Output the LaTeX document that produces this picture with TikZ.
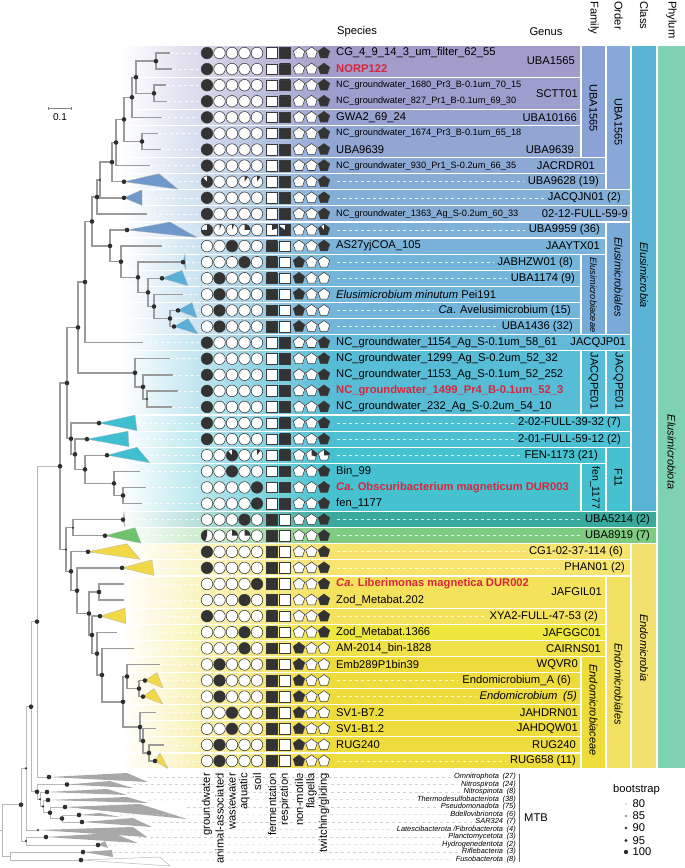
\documentclass[tikz,border=0pt]{standalone}
\usepackage{fontspec}
\setmainfont{Liberation Sans}
\usetikzlibrary{calc}
\definecolor{brc}{HTML}{9B9B9B}
\definecolor{mtbc}{HTML}{B8B8B8}
\definecolor{dotc}{HTML}{2E2E2E}
\definecolor{symdark}{HTML}{333333}
\definecolor{symedge}{HTML}{3A3A3A}
\definecolor{magred}{HTML}{D7263D}
% bands
\definecolor{cA}{HTML}{A39BC9}
\definecolor{cB}{HTML}{9C9FCD}
\definecolor{cC}{HTML}{97A2D0}
\definecolor{cD}{HTML}{91A6D3}
\definecolor{cE}{HTML}{8BA9D4}
\definecolor{cF}{HTML}{86ACD5}
\definecolor{cG}{HTML}{82AFD7}
\definecolor{cH}{HTML}{86ACD6}
\definecolor{cI}{HTML}{7FB1D8}
\definecolor{cJ}{HTML}{79B3D9}
\definecolor{cK}{HTML}{73B5DA}
\definecolor{cL}{HTML}{63B9D7}
\definecolor{cM}{HTML}{57BCD6}
\definecolor{cN}{HTML}{4DBFD3}
\definecolor{cO}{HTML}{45C1CF}
\definecolor{cP}{HTML}{39A89D}
\definecolor{cQ}{HTML}{80CB82}
\definecolor{cR}{HTML}{F6E46E}
\definecolor{cS}{HTML}{F4E25C}
\definecolor{cT}{HTML}{EDE63C}
\definecolor{cU}{HTML}{F0E14A}
\definecolor{cV}{HTML}{EEDB3C}
% higher ranks
\definecolor{famA}{HTML}{8AA2D6}
\definecolor{famB}{HTML}{78ACD8}
\definecolor{ordA}{HTML}{88A8D8}
\definecolor{ordB}{HTML}{7AABD8}
\definecolor{ordC}{HTML}{F2E060}
\definecolor{clsA}{HTML}{5CB4D4}
\definecolor{clsB}{HTML}{F2E070}
\definecolor{phyA}{HTML}{7ED2B2}
% collapsed clades
\definecolor{triA}{HTML}{6F98CB}
\definecolor{triB}{HTML}{5AAFD8}
\definecolor{triC}{HTML}{3FBFD1}
\definecolor{triD}{HTML}{8C8C8C}
\definecolor{triE}{HTML}{6DC46D}
\definecolor{triF}{HTML}{F2D846}
\definecolor{triG}{HTML}{A8A8A8}

\newcommand{\ry}[1]{53+16.09*(#1-1)}
\newcommand{\piefill}[3]{%
  \ifdim #3pt=0pt\relax\else
    \ifdim #3pt=1pt\relax
      \fill[symdark] (#1-9,#2-9) rectangle (#1+9,#2+9);
    \else
      \fill[symdark] (#1,#2) -- (#1,#2-9) arc[start angle=-90, delta angle={360*(#3)}, radius=9] -- cycle;
    \fi
  \fi}
\newcommand{\circsym}[3]{%
  \begin{scope}
    \clip (#1,#2) circle (5.8);
    \fill[white] (#1,#2) circle (5.8);
    \piefill{#1}{#2}{#3}
  \end{scope}
  \draw[symline] (#1,#2) circle (5.8);}
\newcommand{\sqsym}[3]{%
  \begin{scope}
    \clip (#1-5.3,#2-5.3) rectangle (#1+5.3,#2+5.3);
    \fill[white] (#1-5.3,#2-5.3) rectangle (#1+5.3,#2+5.3);
    \piefill{#1}{#2}{#3}
  \end{scope}
  \draw[symline] (#1-5.3,#2-5.3) rectangle (#1+5.3,#2+5.3);}
\newcommand{\pentsym}[3]{%
  \begin{scope}
    \clip (#1,#2-6) -- (#1+5.71,#2-1.85) -- (#1+3.53,#2+4.85) -- (#1-3.53,#2+4.85) -- (#1-5.71,#2-1.85) -- cycle;
    \fill[white] (#1-7,#2-7) rectangle (#1+7,#2+7);
    \piefill{#1}{#2}{#3}
  \end{scope}
  \draw[symline] (#1,#2-6) -- (#1+5.71,#2-1.85) -- (#1+3.53,#2+4.85) -- (#1-3.53,#2+4.85) -- (#1-5.71,#2-1.85) -- cycle;}

\begin{document}
\begin{tikzpicture}[x=1pt,y=-1pt,
  branch/.style={brc, line width=1.4pt},
  mtbbranch/.style={mtbc, line width=0.8pt},
  guide/.style={white, line width=0.6pt, dash pattern=on 3pt off 3pt, opacity=0.85},
  mtbguide/.style={gray!35, line width=0.5pt, dash pattern=on 3pt off 3pt},
  sep/.style={white, line width=1.2pt},
  symline/.style={symedge, line width=0.55pt},
  splab/.style={anchor=west, inner sep=0pt, font=\fontsize{11.2}{13}\selectfont},
  smlab/.style={anchor=west, inner sep=0pt, font=\fontsize{9.2}{11}\selectfont},
  redlab/.style={anchor=west, inner sep=0pt, text=magred, font=\fontsize{11.2}{13}\selectfont\bfseries},
  genlab/.style={anchor=east, inner sep=0pt, font=\fontsize{11.2}{13}\selectfont},
  vlab/.style={rotate=-90, inner sep=0pt, font=\fontsize{11}{13}\selectfont},
  collab/.style={rotate=90, anchor=east, inner sep=0pt, font=\fontsize{11.2}{13}\selectfont},
  headlab/.style={inner sep=0pt, font=\fontsize{11.2}{13}\selectfont},
  mtblab/.style={anchor=east, inner sep=0pt, font=\fontsize{7.4}{8}\selectfont\itshape}]
\useasboundingbox (0,0) rectangle (685,868);

% row bands
\foreach \a/\b/\xr/\col in {1/2/581/cA, 3/4/581/cB, 5/5/581/cC, 6/7/581/cD, 8/8/606/cE, 9/9/606/cF,
  10/10/631/cG, 11/11/631/cH, 12/12/606/cI, 13/13/606/cJ, 14/14/581/cK, 15/15/581/cK, 16/16/581/cK,
  17/17/581/cK, 18/18/581/cK, 19/19/631/cL, 20/23/581/cM, 24/24/631/cN, 25/25/631/cN, 26/26/606/cO,
  27/29/581/cO, 30/30/657/cP, 31/31/657/cQ, 32/32/631/cR, 33/33/631/cR, 34/35/606/cS, 36/36/606/cS,
  37/37/606/cT, 38/38/606/cU, 39/39/581/cV, 40/40/581/cV, 41/41/581/cV, 42/42/581/cV, 43/43/581/cV,
  44/44/581/cV, 45/45/581/cV}{
  \shade[left color=white, right color=\col] (120,{\ry{\a}-8.05}) rectangle (330,{\ry{\b}+8.05});
  \fill[\col] (329.5,{\ry{\a}-8.05}) rectangle (\xr,{\ry{\b}+8.05});
  \draw[sep] (120,{\ry{\a}-8.05}) rectangle (\xr,{\ry{\b}+8.05});
}
% family, order, class, phylum cells
\foreach \a/\b/\xl/\xr/\col in {1/7/581/606/famA, 14/18/581/606/famB, 20/23/581/606/cM, 27/29/581/606/cO,
  39/45/581/606/cV, 1/9/606/631/ordA, 12/18/606/631/ordB, 20/23/606/631/cM, 26/29/606/631/cO,
  34/45/606/631/ordC, 1/29/631/657/clsA, 32/45/631/657/clsB, 1/45/657/686/phyA}
  \filldraw[fill=\col, draw=white, line width=1.2pt] (\xl,{\ry{\a}-8.05}) rectangle (\xr,{\ry{\b}+8.05});

\coordinate (symcol) at (199,0);
\coordinate (spcol) at (337,0);

% tips
\foreach \n/\x in {1/170, 2/172, 3/166, 4/167, 5/162, 6/158, 7/161, 8/150, 11/147, 13/162, 16/183,
  19/143, 20/170, 21/173, 22/178, 23/172, 27/140, 28/146, 29/142, 34/124, 35/124, 37/117, 38/134,
  39/160, 42/156, 43/156, 44/164}
  \coordinate (t\n) at (\x,{\ry{\n}});

% collapsed clades
\foreach \n/\nx/\tx/\bx/\col in {9/124/159/178/triA, 10/124/142/142/triA, 12/127/170/197/triA,
  14/183/185/186/triB, 15/162/182/188/triB, 17/178/192/197/triB, 18/174/188/198/triB,
  24/99/135/137/triC, 25/87/128/129/triC, 26/107/137/150/triC, 30/123/124/125/triD,
  31/105/135/141/triE, 32/88/127/140/triF, 33/122/152/154/triF, 36/100/125/126/triF,
  40/145/157/163/triF, 41/143/154/163/triF, 45/155/160/168/triF}{
  \coordinate (k\n) at (\nx,{\ry{\n}});
  \coordinate (e\n) at (\bx,{\ry{\n}});
  \filldraw[fill=\col, draw=gray!60, line width=0.3pt] (k\n) -- (\tx,{\ry{\n}-8}) -- (\bx,{\ry{\n}+7.5}) -- cycle;
}

% MTB outgroups
\foreach \n/\nx/\ny/\tx/\ty/\bx/\by in {1/49/777/127/773/148/782, 2/67/784.5/110/781/133/788,
  3/47/792/107/789/127/795, 4/48/800/127/797/148/803, 5/65/807/140/804/187/819,
  6/79/815/100/813/120/817, 7/82/822/133/818/152/827, 8/38/830/133/827/147/837,
  9/46/837/113/833/138/843, 10/98/845/105/841/108/848, 11/83/852/112/850/113/857}{
  \coordinate (m\n) at (\nx,\ny);
  \coordinate (f\n) at (\bx,\ny);
  \fill[triG] (m\n) -- (\tx,\ty) -- (\bx,\by) -- cycle;
}
\coordinate (m12) at (81,860);
\coordinate (f12) at (170,860);
\filldraw[fill=white, draw=mtbc, line width=0.5pt] (m12) -- (160,857) -- (170,866) -- cycle;

% inner nodes
\foreach \n/\x/\y in {A1/156/61.1, A3/154/93.3, A2/136/77.2, A4/132/97.3, A6/142/141.5,
  A5/124/119.4, A7/116/142.5, A8/112/162.1, A9/100/180, A10/97/197, A18/170/318.5,
  A17/154/306.5, A16/148/292.4, A14/138/277.3, A13/121/261.7, A12/110/245.9, A11/92/221.5,
  A20/85/282, A23/147/399, A22/143/386.9, A21/135/372.8, A19/78/327.4, A29/123/495.5,
  A28/114/483.4, A27/85/469.4, A26/75/454.3, A25/71/438.7, A24/67/383, A32/73/527.7,
  A36/99/592, B40/139/688.6, B39/127/676.5, B44/149/753, B43/143/741, B42/140/727,
  B41/123/701.8, B38/102/675, B37/97/653.6, A37/92/635, A35/89/613.5, A34/77/590.7,
  A33/71/571.3, A31/66/549.5, A30/60/466.2, B1/37/621.6, Q7/62/818.5, Q6/50/812.7,
  Q5/43/806.4, Q4/40/799.2, B3/37/791.8, B2/31/706.7, Q2/26/768.4, Q8/26/841,
  Q1/21/804.7, Q9/10/856, Q0/2/830.3}
  \coordinate (\n) at (\x,\y);
\coordinate (root) at (0,830.3);

% guides
\foreach \n in {1,2,3,4,5,6,7,8,11,13,16,19,20,21,22,23,27,28,29,34,35,37,38,39,42,43,44}
  \draw[guide] (t\n) -- (t\n -| symcol);
\foreach \n in {9,10,12,14,15,17,18,24,25,26,30,31,32,33,36,40,41,45}
  \draw[guide] (e\n) -- (e\n -| symcol);

% tree
\foreach \p/\c in {A1/t1, A1/t2, A3/t3, A3/t4, A2/A1, A2/A3, A4/A2, A4/t5, A6/t6, A6/t7, A5/A4,
  A5/A6, A7/A5, A7/t8, A8/A7, A8/k9, A9/A8, A9/k10, A10/A9, A10/t11, A12/k12, A12/A13, A13/t13,
  A13/A14, A14/k14, A14/A16, A16/k15, A16/A17, A17/t16, A17/A18, A18/k17, A18/k18, A11/A10,
  A11/A12, A20/A11, A20/t19, A19/A20, A19/A21, A21/t20, A21/A22, A22/t21, A22/A23, A23/t22,
  A23/t23, A24/A19, A24/A25, A25/k24, A25/A26, A26/k25, A26/A27, A27/k26, A27/A28, A28/t27,
  A28/A29, A29/t28, A29/t29, A30/A24, A30/A31, A31/A32, A31/A33, A32/k30, A32/k31, A33/k32,
  A33/A34, A34/k33, A34/A35, A35/A36, A35/A37, A36/t34, A36/t35, A37/k36, A37/B37, B37/t37,
  B37/B38, B38/t38, B38/B41, B41/B39, B41/B42, B39/t39, B39/B40, B40/k40, B40/k41, B42/t42,
  B42/B43, B43/t43, B43/B44, B44/t44, B44/k45}
  \draw[branch] (\p) |- (\c);
\foreach \p/\c in {B1/A30, B1/m1, B2/B1, B2/B3, B3/m2, B3/Q4, Q4/m3, Q4/Q5, Q5/m4, Q5/Q6,
  Q6/m5, Q6/Q7, Q7/m6, Q7/m7, Q2/B2, Q2/m8, Q8/m9, Q8/m10, Q1/Q2, Q1/Q8, Q9/m11, Q9/m12,
  Q0/Q1, Q0/Q9}
  \draw[mtbbranch] (\p) |- (\c);
\draw[mtbbranch] (root) -- (Q0);

% bootstrap dots
\foreach \n in {A1,A2,A3,A4,A5,A6,A7,A8,A10,A11,A12,A13,A14,A16,A17,A18,A19,A20,A21,A22,A24,
  A25,A26,A27,A28,A29,A30,A33,A34,A35,A36,A37,B37,B38,B39,B40,B41,B42,B43,B44,B1,B2,B3,
  k9,k10,k12,k14,k15,k17,k18,k24,k25,k26,k30,k31,k32,k33,k36,k40,k41,k45,
  m1,m2,m3,m4,m5,m6,m7,m9,m10,m11,m12,Q1,Q6,Q7}
  \fill[dotc] (\n) circle (2.3);
\foreach \n in {A9,A23,A31,A32,Q2,Q4,Q5,Q8,m8}
  \fill[dotc] (\n) circle (1.2);

% trait symbols
\foreach \r/\ha/\hb/\hc/\hd/\he/\fa/\fb/\ma/\mb/\mc in {
  1/1/0/0/0/0/0/1/0/0/1, 2/1/0/0/0/0/0/1/0/0/1, 3/1/0/0/0/0/0/1/0/0/1, 4/1/0/0/0/0/0/1/0/0/1,
  5/1/0/0/0/0/0/1/0/0/1, 6/1/0/0/0/0/0/1/0/0/1, 7/1/0/0/0/0/0/1/0/0/1, 8/1/0/0/0/0/0/1/0/0/1,
  9/.88/0/0/.1/.1/0/1/0/0/1, 10/1/0/0/0/0/0/1/0/0/1, 11/1/0/0/0/0/0/1/0/0/1,
  12/.75/.06/.06/.25/0/.2/.85/0/0/.9, 13/0/0/1/0/0/1/0/0/0/1, 14/0/0/0/1/0/1/0/1/0/0,
  15/0/1/0/0/0/1/0/1/0/0, 16/0/1/0/0/0/1/0/1/0/0, 17/0/1/0/0/0/1/0/1/0/0, 18/0/1/0/0/0/1/0/1/0/0,
  19/1/0/0/0/0/0/1/0/0/1, 20/1/0/0/0/0/0/1/0/0/1, 21/1/0/0/0/0/0/1/0/0/1, 22/1/0/0/0/0/0/1/0/0/1,
  23/1/0/0/0/0/0/1/0/0/1, 24/1/0/0/0/0/0/1/0/0/1, 25/1/0/0/0/0/0/1/0/0/1,
  26/0/0/.88/0/.1/0/1/0/.3/.25, 27/0/0/1/0/0/0/1/0/0/1, 28/0/0/0/0/1/0/1/0/0/1,
  29/0/0/0/0/1/0/1/0/0/1, 30/0/0/0/1/0/1/0/0/0/1, 31/-.45/0/.25/.25/0/1/0/0/0/1,
  32/1/0/0/0/0/1/0/0/0/1, 33/1/0/0/0/0/1/0/0/0/1, 34/0/0/0/0/1/1/0/0/0/1, 35/0/0/0/1/0/1/0/0/0/1,
  36/1/0/0/0/0/1/0/0/0/1, 37/0/0/0/1/0/1/0/0/0/1, 38/0/0/0/1/0/1/0/1/0/0, 39/0/1/0/0/0/1/0/1/0/0,
  40/0/1/0/0/0/1/0/1/0/0, 41/0/1/0/0/0/1/0/1/0/0, 42/0/0/1/0/0/1/0/1/0/0, 43/0/0/1/0/0/1/0/1/0/0,
  44/0/1/0/0/0/1/0/1/0/0, 45/0/1/0/0/0/1/0/1/0/0}{
  \pgfmathsetmacro\yy{\ry{\r}}
  \circsym{207}{\yy}{\ha}
  \circsym{219.5}{\yy}{\hb}
  \circsym{232}{\yy}{\hc}
  \circsym{244.5}{\yy}{\hd}
  \circsym{257}{\yy}{\he}
  \sqsym{272}{\yy}{\fa}
  \sqsym{285}{\yy}{\fb}
  \pentsym{299}{\yy}{\ma}
  \pentsym{311.5}{\yy}{\mb}
  \pentsym{324}{\yy}{\mc}
}

% species
\node[splab] (s1) at (336,{\ry{1}}) {CG\_4\_9\_14\_3\_um\_filter\_62\_55};
\node[redlab] (s2) at (336,{\ry{2}}) {NORP122};
\node[smlab] (s3) at (336,{\ry{3}}) {NC\_groundwater\_1680\_Pr3\_B-0.1um\_70\_15};
\node[smlab] (s4) at (336,{\ry{4}}) {NC\_groundwater\_827\_Pr1\_B-0.1um\_69\_30};
\node[splab] (s5) at (336,{\ry{5}}) {GWA2\_69\_24};
\node[smlab] (s6) at (336,{\ry{6}}) {NC\_groundwater\_1674\_Pr3\_B-0.1um\_65\_18};
\node[splab] (s7) at (336,{\ry{7}}) {UBA9639};
\node[smlab] (s8) at (336,{\ry{8}}) {NC\_groundwater\_930\_Pr1\_S-0.2um\_66\_35};
\node[smlab] (s11) at (336,{\ry{11}}) {NC\_groundwater\_1363\_Ag\_S-0.2um\_60\_33};
\node[splab] (s13) at (336,{\ry{13}}) {AS27yjCOA\_105};
\node[splab] (s16) at (336,{\ry{16}}) {\textit{Elusimicrobium minutum} Pei191};
\node[splab] (s19) at (336,{\ry{19}}) {NC\_groundwater\_1154\_Ag\_S-0.1um\_58\_61};
\node[splab] (s20) at (336,{\ry{20}}) {NC\_groundwater\_1299\_Ag\_S-0.2um\_52\_32};
\node[splab] (s21) at (336,{\ry{21}}) {NC\_groundwater\_1153\_Ag\_S-0.1um\_52\_252};
\node[redlab] (s22) at (336,{\ry{22}}) {NC\_groundwater\_1499\_Pr4\_B-0.1um\_52\_3};
\node[splab] (s23) at (336,{\ry{23}}) {NC\_groundwater\_232\_Ag\_S-0.2um\_54\_10};
\node[splab] (s27) at (336,{\ry{27}}) {Bin\_99};
\node[redlab] (s28) at (336,{\ry{28}}) {\textit{Ca}. Obscuribacterium magneticum DUR003};
\node[splab] (s29) at (336,{\ry{29}}) {fen\_1177};
\node[redlab] (s34) at (336,{\ry{34}}) {\textit{Ca}. Liberimonas magnetica DUR002};
\node[splab] (s35) at (336,{\ry{35}}) {Zod\_Metabat.202};
\node[splab] (s37) at (336,{\ry{37}}) {Zod\_Metabat.1366};
\node[splab] (s38) at (336,{\ry{38}}) {AM-2014\_bin-1828};
\node[splab] (s39) at (336,{\ry{39}}) {Emb289P1bin39};
\node[splab] (s42) at (336,{\ry{42}}) {SV1-B7.2};
\node[splab] (s43) at (336,{\ry{43}}) {SV1-B1.2};
\node[splab] (s44) at (336,{\ry{44}}) {RUG240};

% genera
\node[genlab] (gUBA1565) at (575,{\ry{1.5}}) {UBA1565};
\node[genlab] (gSCTT) at (578,{\ry{3.5}}) {SCTT01};
\node[genlab] (gUBA10166) at (577,{\ry{5}}) {UBA10166};
\node[genlab] (gUBA9639) at (574,{\ry{7}}) {UBA9639};
\node[genlab] (gJACRDR) at (595,{\ry{8}}) {JACRDR01};
\node[genlab] (g9) at (599,{\ry{9}}) {UBA9628 (19)};
\node[genlab] (g10) at (621,{\ry{10}}) {JACQJN01 (2)};
\node[genlab] (g0212) at (628,{\ry{11}}) {02-12-FULL-59-9};
\node[genlab] (g12) at (600,{\ry{12}}) {UBA9959 (36)};
\node[genlab] (gJAAYTX) at (600,{\ry{13}}) {JAAYTX01};
\node[genlab] (g14) at (573,{\ry{14}}) {JABHZW01 (8)};
\node[genlab] (g15) at (575,{\ry{15}}) {UBA1174 (9)};
\node[genlab] (g17) at (571,{\ry{17}}) {\textit{Ca}. Avelusimicrobium (15)};
\node[genlab] (g18) at (573,{\ry{18}}) {UBA1436 (32)};
\node[genlab] (gJACQJP) at (626,{\ry{19}}) {JACQJP01};
\node[genlab] (g24) at (621,{\ry{24}}) {2-02-FULL-39-32 (7)};
\node[genlab] (g25) at (621,{\ry{25}}) {2-01-FULL-59-12 (2)};
\node[genlab] (g26) at (598,{\ry{26}}) {FEN-1173 (21)};
\node[genlab] (g30) at (650,{\ry{30}}) {UBA5214 (2)};
\node[genlab] (g31) at (650,{\ry{31}}) {UBA8919 (7)};
\node[genlab] (g32) at (623,{\ry{32}}) {CG1-02-37-114 (6)};
\node[genlab] (g33) at (625,{\ry{33}}) {PHAN01 (2)};
\node[genlab] (gJAFGIL) at (602,{\ry{34.5}}) {JAFGIL01};
\node[genlab] (g36) at (598,{\ry{36}}) {XYA2-FULL-47-53 (2)};
\node[genlab] (gJAFGGC) at (601,{\ry{37}}) {JAFGGC01};
\node[genlab] (gCAIRNS) at (601,{\ry{38}}) {CAIRNS01};
\node[genlab] (gWQVR) at (578,{\ry{39}}) {WQVR0};
\node[genlab] (g40) at (571,{\ry{40}}) {Endomicrobium\_A (6)};
\node[genlab] (g41) at (577,{\ry{41}}) {\textit{Endomicrobium\enspace(5)}};
\node[genlab] (gJAHDRN) at (578,{\ry{42}}) {JAHDRN01};
\node[genlab] (gJAHDQW) at (578,{\ry{43}}) {JAHDQW01};
\node[genlab] (gRUG240) at (576,{\ry{44}}) {RUG240};
\node[genlab] (g45) at (576,{\ry{45}}) {RUG658 (11)};

% guides in the species column of collapsed rows
\foreach \n in {9,10,12,14,15,17,18,24,25,26,30,31,32,33,36,40,41,45}
  \draw[guide] (e\n -| spcol) -- ([xshift=-4pt]g\n.west);

% family / order / class / phylum labels
\node[vlab] (fUBA1565) at (593.5,108) {UBA1565};
\node[vlab] (oUBA1565) at (618.5,122) {UBA1565};
\node[vlab, font=\fontsize{9.2}{11}\selectfont\itshape] (fElusiceae) at (593.5,295) {Elusimicrobiaceae};
\node[vlab, font=\fontsize{11}{13}\selectfont\itshape] (oElusiales) at (618.5,277) {Elusimicrobiales};
\node[vlab, font=\fontsize{11}{13}\selectfont\itshape] (cElusia) at (644,275) {Elusimicrobia};
\node[vlab] (fJACQPE) at (593.5,381) {JACQPE01};
\node[vlab] (oJACQPE) at (618.5,381) {JACQPE01};
\node[vlab, font=\fontsize{10.4}{12}\selectfont] (fFen) at (595,488) {fen\_1177};
\node[vlab] (oF11) at (618.5,478) {F11};
\node[vlab, font=\fontsize{11}{13}\selectfont\itshape] (pElusiota) at (671.5,452) {Elusimicrobiota};
\node[vlab, font=\fontsize{11}{13}\selectfont\itshape] (cEndoa) at (644,648) {Endomicrobia};
\node[vlab, font=\fontsize{11}{13}\selectfont\itshape] (oEndoales) at (618.5,684) {Endomicrobiales};
\node[vlab, font=\fontsize{11}{13}\selectfont\itshape] (fEndoceae) at (593.5,710) {Endomicrobiaceae};

% headers
\node[headlab] (hSpecies) at (357,32) {Species};
\node[headlab] (hGenus) at (546,32) {Genus};
\node[headlab, rotate=-90, anchor=west] (hFamily) at (593.5,1) {Family};
\node[headlab, rotate=-90, anchor=west] (hOrder) at (618.5,1) {Order};
\node[headlab, rotate=-90, anchor=west] (hClass) at (644,1) {Class};
\node[headlab, rotate=-90, anchor=west] (hPhylum) at (671.5,1) {Phylum};

% trait column labels
\foreach \x/\t [count=\i] in {207/groundwater, 219.5/animal-associated, 232/wastewater, 244.5/aquatic,
  257/soil, 272/fermentation, 285/respiration, 299/non-motile, 311.5/flagella, 324/{twitching/gliding}}
  \node[collab] (col\i) at (\x,773) {\t};

% MTB outgroup labels
\foreach \n/\y/\t in {1/777/{Omnitrophota\enspace(27)}, 2/784.5/{Nitrospirota\enspace(24)},
  3/792/{Nitrospinota\enspace(8)}, 4/799.5/{Thermodesulfobacteriota\enspace(38)},
  5/807/{Pseudomonadota\enspace(75)}, 6/814.5/{Bdellovibrionota\enspace(6)}, 7/822/{SAR324\enspace(7)},
  8/829.5/{Latescibacterota /Fibrobacterota\enspace(4)}, 9/837/{Planctomycetota\enspace(3)},
  10/844.5/{Hydrogenedentota\enspace(2)}, 11/852/{Riflebacteria\enspace(3)}, 12/859.5/{Fusobacterota\enspace(8)}}{
  \node[mtblab] (mtb\n) at (516,\y) {\t};
  \draw[mtbguide] (f\n) -- ([xshift=-3pt]mtb\n.west);
}
\coordinate (mtbtop) at (519.5,774);
\coordinate (mtbbot) at (519.5,862);
\draw[gray!80!black, line width=0.8pt] (mtbtop) -- (mtbbot);
\node[headlab, anchor=west] (mtb) at (524,818) {MTB};

% bootstrap legend
\node[headlab, anchor=west] (bshead) at (613,790) {bootstrap};
\foreach \v/\rad/\y in {80/0.5/804, 85/0.9/816, 90/1.3/828, 95/1.7/840.5, 100/2.2/852}{
  \fill[dotc] (626,\y) circle (\rad);
  \node[headlab, anchor=west] (bs\v) at (632.5,\y) {\v};
}

% scale bar
\coordinate (sbl) at (48,108);
\coordinate (sbr) at (71,108);
\draw[gray, line width=0.6pt] (sbl) -- (sbr);
\draw[gray, line width=0.6pt] ([yshift=-1.5pt]sbl) -- ([yshift=1.5pt]sbl);
\draw[gray, line width=0.6pt] ([yshift=-1.5pt]sbr) -- ([yshift=1.5pt]sbr);
\node[headlab, font=\fontsize{10}{12}\selectfont] (sb) at (60,117.5) {0.1};
\end{tikzpicture}
\end{document}
